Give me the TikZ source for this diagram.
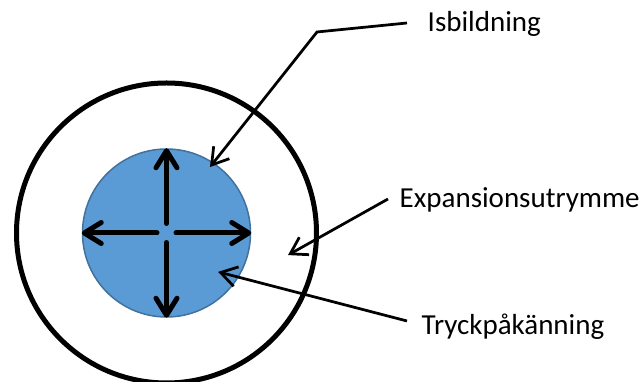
\documentclass[tikz,border=0pt]{standalone}
\usepackage{fontspec}
\setmainfont{Carlito}
\usetikzlibrary{arrows.meta}
\definecolor{iceblue}{HTML}{5B9BD5}
\definecolor{ringblue}{HTML}{41719C}

\begin{document}
\begin{tikzpicture}[x=1pt,y=1pt,
    push/.style={line width=5pt, line cap=round, -{Straight Barb[round,length=17pt,width=21pt]}},
    pointer/.style={line width=2.75pt, -{Straight Barb[length=16pt,width=20pt]}},
    tag/.style={inner sep=0pt, anchor=base west, font=\fontsize{29}{35}\selectfont}]
    \useasboundingbox (0,0) rectangle (643,382);

    \node[circle, draw, line width=5pt, minimum size=300pt] (pipe) at (166.5,149) {};
    \node[circle, draw=ringblue, fill=iceblue, line width=1.5pt, minimum size=168pt] (ice) at (166.5,149) {};

    % pressure arrows from the middle
    \foreach \ang in {0,90,180,270}
        \draw[push] ([shift={(\ang:9.5)}]ice.center) -- (ice.\ang);

    \node[tag] (isb)   at (427.5,350) {Isbildning};
    \node[tag] (exp)   at (399.5,174) {Expansionsutrymme};
    \node[tag] (tryck) at (421.5,47)  {Tryckpåkänning};

    \coordinate (isbknee) at (317,350);

    \draw[pointer] ([shift={(-20.5,9)}]isb.base west) -- (isbknee) -- ([shift={(56.6:79)}]ice.center);
    \draw[pointer] ([shift={(-11.5,9)}]exp.base west) -- ([shift={(-10.3:123.5)}]ice.center);
    \draw[pointer] ([shift={(-14.5,14)}]tryck.base west) -- ([shift={(-37:64.6)}]ice.center);
\end{tikzpicture}
\end{document}
